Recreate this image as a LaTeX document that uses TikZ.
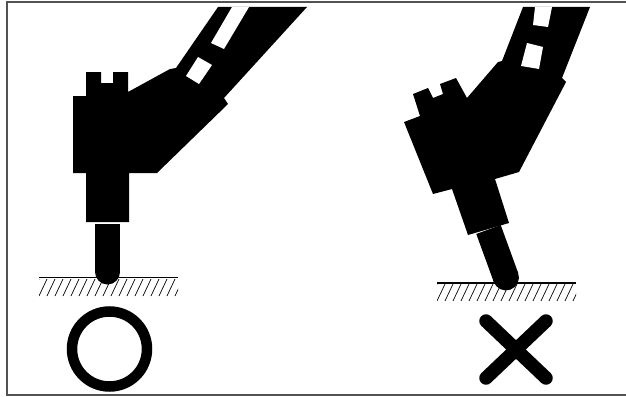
\documentclass[tikz,border=0pt]{standalone}
\usepackage{tikz}
\usetikzlibrary{calc}
\tikzset{
  body/.style={fill=black},
  slot/.style={fill=white},
  ground/.style={line width=1.8pt},
  hatch/.style={line width=0.7pt},
  frameline/.style={draw=black!68, line width=1.4pt},
  okmark/.style={draw, line width=10.5pt},
  ngmark/.style={line width=13.5pt, line cap=round}
}

\begin{document}
\begin{tikzpicture}[x=1pt,y=-1pt]
  \useasboundingbox (0,0) rectangle (626,396);
  \draw[frameline] (628,2) -- (7,2) -- (7,395) -- (628,395);

  % ground, left
  \begin{scope}
    \clip (39,279) rectangle (178,296);
    \foreach \x in {31,39,...,183} \draw[hatch] (\x,296) -- ++(8,-17);
  \end{scope}
  \draw[ground] (39,277.5) -- (178,277.5);

  % ground, right
  \begin{scope}
    \clip (437,284) rectangle (576,301);
    \foreach \x in {429,437,...,581} \draw[hatch] (\x,301) -- ++(8,-17);
  \end{scope}
  \draw[ground] (437,283) -- (576,283);

  % upright tool
  \fill[body] (73,96) -- (86,96) -- (86,72) -- (101,72) -- (101,83) -- (113,83)
    -- (113,72) -- (128,72) -- (128,92) -- (170,69) -- (176,68) -- (218,7)
    -- (307,7) -- (224,98) -- (228,104) -- (157,173) -- (129,173) -- (129,222)
    -- (86,222) -- (86,173) -- (73,173) -- cycle;
  \fill[slot] (232,7) -- (249,7) -- (224,49) -- (211,43) -- cycle;
  \fill[slot] (198,57) -- (212,65) -- (199,84) -- (186,76) -- cycle;
  \coordinate (tipA) at (107.5,272);
  \fill[body] (95,224) rectangle (120,272);
  \fill[body] (tipA) circle[radius=12.5pt];

  % tilted tool
  \fill[body] (404,122) -- (420,116) -- (413,94) -- (428,88) -- (433,98) -- (443,94)
    -- (440,84) -- (456,78) -- (467,98) -- (498,62) -- (502,61) -- (523,7)
    -- (590,7) -- (562,78) -- (566,82) -- (519,172) -- (495,179) -- (509,223)
    -- (468,235) -- (452,189) -- (433,194) -- cycle;
  \fill[slot] (535,7) -- (552,7) -- (548,27) -- (533,25) -- cycle;
  \fill[slot] (527,43) -- (543,47) -- (539,69) -- (521,66) -- cycle;
  \begin{scope}[shift={(488.5,229.5)}, rotate=20]
    \coordinate (tipB) at (0,51);
    \fill[body] (-13,0) rectangle (13,51);
    \fill[body] (tipB) circle[radius=13pt];
  \end{scope}

  % good / bad marks
  \coordinate (ok) at (109.5,349);
  \draw[okmark] (ok) circle[radius=37.5pt];
  \draw[ngmark] (486,321) -- (546,378);
  \draw[ngmark] (546,321) -- (486,378);
\end{tikzpicture}
\end{document}
